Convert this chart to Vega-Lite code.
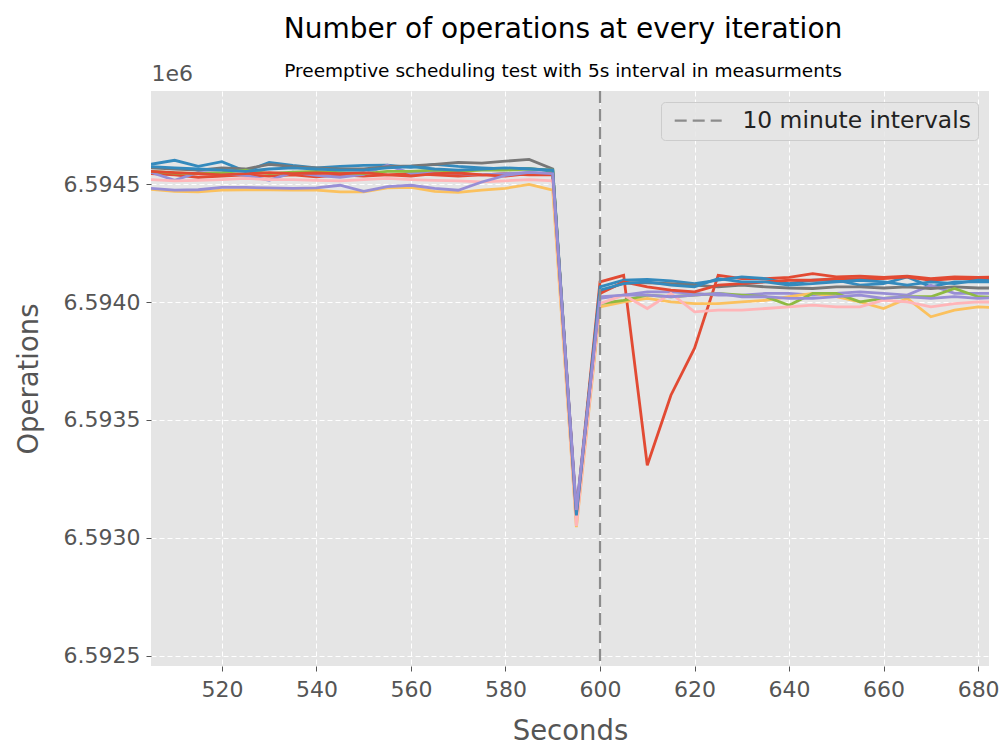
{
  "$schema": "https://vega.github.io/schema/vega-lite/v6.json",
  "width": 838,
  "height": 575,
  "autosize": {"type": "none"},
  "padding": {"left": 151, "top": 91, "right": 13, "bottom": 80},
  "background": "white",
  "title": {
    "text": "Number of operations at every iteration",
    "subtitle": "Preemptive scheduling test with 5s interval in measurments",
    "anchor": "middle",
    "dx": -7,
    "font": "DejaVu Sans",
    "fontSize": 28,
    "fontWeight": "normal",
    "color": "#000000",
    "subtitleFont": "DejaVu Sans",
    "subtitleFontSize": 18.5,
    "subtitleColor": "#000000",
    "subtitlePadding": 18,
    "offset": -18
  },
  "config": {
    "font": "DejaVu Sans",
    "view": {"fill": "#E5E5E5", "stroke": null},
    "axis": {
      "domain": false,
      "grid": true,
      "gridColor": "#FFFFFF",
      "gridDash": [5, 3],
      "gridWidth": 1,
      "gridOpacity": 1,
      "tickColor": "#555555",
      "tickSize": 5,
      "tickWidth": 1,
      "labelColor": "#555555",
      "labelFont": "DejaVu Sans",
      "labelFontSize": 22,
      "labelPadding": 5,
      "titleColor": "#555555",
      "titleFont": "DejaVu Sans",
      "titleFontSize": 27.5,
      "titleFontWeight": "normal"
    },
    "legend": {
      "fillColor": "rgba(229,229,229,0.85)",
      "strokeColor": "#CCCCCC",
      "cornerRadius": 4,
      "padding": 7,
      "labelFont": "DejaVu Sans",
      "labelFontSize": 23.4,
      "labelColor": "#222222",
      "labelLimit": 0
    }
  },
  "resolve": {"axis": {"x": "independent"}},
  "layer": [
    {
      "data": {
        "values": [
          {"t":505,"s":"s01","v":6594545},{"t":510,"s":"s01","v":6594540},{"t":515,"s":"s01","v":6594530},{"t":520,"s":"s01","v":6594535},{"t":525,"s":"s01","v":6594540},{"t":530,"s":"s01","v":6594535},{"t":535,"s":"s01","v":6594540},{"t":540,"s":"s01","v":6594532},{"t":545,"s":"s01","v":6594540},{"t":550,"s":"s01","v":6594535},{"t":555,"s":"s01","v":6594540},{"t":560,"s":"s01","v":6594545},{"t":565,"s":"s01","v":6594540},{"t":570,"s":"s01","v":6594535},{"t":575,"s":"s01","v":6594540},{"t":580,"s":"s01","v":6594545},{"t":585,"s":"s01","v":6594540},{"t":590,"s":"s01","v":6594540},{"t":595,"s":"s01","v":6593105},{"t":600,"s":"s01","v":6594086},{"t":605,"s":"s01","v":6594114},{"t":610,"s":"s01","v":6593308},{"t":615,"s":"s01","v":6593605},{"t":620,"s":"s01","v":6593805},{"t":625,"s":"s01","v":6594114},{"t":630,"s":"s01","v":6594100},{"t":635,"s":"s01","v":6594100},{"t":640,"s":"s01","v":6594105},{"t":645,"s":"s01","v":6594121},{"t":650,"s":"s01","v":6594107},{"t":655,"s":"s01","v":6594110},{"t":660,"s":"s01","v":6594105},{"t":665,"s":"s01","v":6594110},{"t":670,"s":"s01","v":6594100},{"t":675,"s":"s01","v":6594107},{"t":680,"s":"s01","v":6594105},{"t":685,"s":"s01","v":6594108},
          {"t":505,"s":"s02","v":6594585},{"t":510,"s":"s02","v":6594602},{"t":515,"s":"s02","v":6594576},{"t":520,"s":"s02","v":6594596},{"t":525,"s":"s02","v":6594555},{"t":530,"s":"s02","v":6594593},{"t":535,"s":"s02","v":6594580},{"t":540,"s":"s02","v":6594570},{"t":545,"s":"s02","v":6594576},{"t":550,"s":"s02","v":6594580},{"t":555,"s":"s02","v":6594581},{"t":560,"s":"s02","v":6594572},{"t":565,"s":"s02","v":6594585},{"t":570,"s":"s02","v":6594576},{"t":575,"s":"s02","v":6594570},{"t":580,"s":"s02","v":6594565},{"t":585,"s":"s02","v":6594568},{"t":590,"s":"s02","v":6594555},{"t":595,"s":"s02","v":6593090},{"t":600,"s":"s02","v":6594065},{"t":605,"s":"s02","v":6594093},{"t":610,"s":"s02","v":6594096},{"t":615,"s":"s02","v":6594090},{"t":620,"s":"s02","v":6594079},{"t":625,"s":"s02","v":6594093},{"t":630,"s":"s02","v":6594107},{"t":635,"s":"s02","v":6594100},{"t":640,"s":"s02","v":6594079},{"t":645,"s":"s02","v":6594093},{"t":650,"s":"s02","v":6594093},{"t":655,"s":"s02","v":6594072},{"t":660,"s":"s02","v":6594079},{"t":665,"s":"s02","v":6594107},{"t":670,"s":"s02","v":6594065},{"t":675,"s":"s02","v":6594086},{"t":680,"s":"s02","v":6594086},{"t":685,"s":"s02","v":6594086},
          {"t":505,"s":"s03","v":6594551},{"t":510,"s":"s03","v":6594517},{"t":515,"s":"s03","v":6594551},{"t":520,"s":"s03","v":6594547},{"t":525,"s":"s03","v":6594538},{"t":530,"s":"s03","v":6594517},{"t":535,"s":"s03","v":6594551},{"t":540,"s":"s03","v":6594538},{"t":545,"s":"s03","v":6594530},{"t":550,"s":"s03","v":6594542},{"t":555,"s":"s03","v":6594581},{"t":560,"s":"s03","v":6594547},{"t":565,"s":"s03","v":6594551},{"t":570,"s":"s03","v":6594545},{"t":575,"s":"s03","v":6594540},{"t":580,"s":"s03","v":6594545},{"t":585,"s":"s03","v":6594551},{"t":590,"s":"s03","v":6594545},{"t":595,"s":"s03","v":6593120},{"t":600,"s":"s03","v":6594016},{"t":605,"s":"s03","v":6594030},{"t":610,"s":"s03","v":6594044},{"t":615,"s":"s03","v":6594044},{"t":620,"s":"s03","v":6594037},{"t":625,"s":"s03","v":6594030},{"t":630,"s":"s03","v":6594030},{"t":635,"s":"s03","v":6594037},{"t":640,"s":"s03","v":6594037},{"t":645,"s":"s03","v":6594030},{"t":650,"s":"s03","v":6594037},{"t":655,"s":"s03","v":6594044},{"t":660,"s":"s03","v":6594037},{"t":665,"s":"s03","v":6594030},{"t":670,"s":"s03","v":6594072},{"t":675,"s":"s03","v":6594037},{"t":680,"s":"s03","v":6594037},{"t":685,"s":"s03","v":6594037},
          {"t":505,"s":"s04","v":6594570},{"t":510,"s":"s04","v":6594565},{"t":515,"s":"s04","v":6594560},{"t":520,"s":"s04","v":6594570},{"t":525,"s":"s04","v":6594565},{"t":530,"s":"s04","v":6594585},{"t":535,"s":"s04","v":6594575},{"t":540,"s":"s04","v":6594570},{"t":545,"s":"s04","v":6594565},{"t":550,"s":"s04","v":6594565},{"t":555,"s":"s04","v":6594575},{"t":560,"s":"s04","v":6594578},{"t":565,"s":"s04","v":6594585},{"t":570,"s":"s04","v":6594593},{"t":575,"s":"s04","v":6594590},{"t":580,"s":"s04","v":6594598},{"t":585,"s":"s04","v":6594606},{"t":590,"s":"s04","v":6594565},{"t":595,"s":"s04","v":6593100},{"t":600,"s":"s04","v":6594044},{"t":605,"s":"s04","v":6594082},{"t":610,"s":"s04","v":6594082},{"t":615,"s":"s04","v":6594079},{"t":620,"s":"s04","v":6594072},{"t":625,"s":"s04","v":6594065},{"t":630,"s":"s04","v":6594072},{"t":635,"s":"s04","v":6594065},{"t":640,"s":"s04","v":6594060},{"t":645,"s":"s04","v":6594058},{"t":650,"s":"s04","v":6594065},{"t":655,"s":"s04","v":6594065},{"t":660,"s":"s04","v":6594060},{"t":665,"s":"s04","v":6594065},{"t":670,"s":"s04","v":6594058},{"t":675,"s":"s04","v":6594065},{"t":680,"s":"s04","v":6594060},{"t":685,"s":"s04","v":6594060},
          {"t":505,"s":"s05","v":6594479},{"t":510,"s":"s05","v":6594470},{"t":515,"s":"s05","v":6594468},{"t":520,"s":"s05","v":6594475},{"t":525,"s":"s05","v":6594477},{"t":530,"s":"s05","v":6594477},{"t":535,"s":"s05","v":6594475},{"t":540,"s":"s05","v":6594475},{"t":545,"s":"s05","v":6594468},{"t":550,"s":"s05","v":6594468},{"t":555,"s":"s05","v":6594485},{"t":560,"s":"s05","v":6594487},{"t":565,"s":"s05","v":6594470},{"t":570,"s":"s05","v":6594466},{"t":575,"s":"s05","v":6594475},{"t":580,"s":"s05","v":6594483},{"t":585,"s":"s05","v":6594500},{"t":590,"s":"s05","v":6594475},{"t":595,"s":"s05","v":6593045},{"t":600,"s":"s05","v":6593980},{"t":605,"s":"s05","v":6594001},{"t":610,"s":"s05","v":6594016},{"t":615,"s":"s05","v":6594001},{"t":620,"s":"s05","v":6593994},{"t":625,"s":"s05","v":6593994},{"t":630,"s":"s05","v":6594001},{"t":635,"s":"s05","v":6594008},{"t":640,"s":"s05","v":6594023},{"t":645,"s":"s05","v":6594037},{"t":650,"s":"s05","v":6594023},{"t":655,"s":"s05","v":6594001},{"t":660,"s":"s05","v":6593973},{"t":665,"s":"s05","v":6594016},{"t":670,"s":"s05","v":6593938},{"t":675,"s":"s05","v":6593966},{"t":680,"s":"s05","v":6593980},{"t":685,"s":"s05","v":6593975},
          {"t":505,"s":"s06","v":6594555},{"t":510,"s":"s06","v":6594548},{"t":515,"s":"s06","v":6594545},{"t":520,"s":"s06","v":6594550},{"t":525,"s":"s06","v":6594560},{"t":530,"s":"s06","v":6594545},{"t":535,"s":"s06","v":6594552},{"t":540,"s":"s06","v":6594555},{"t":545,"s":"s06","v":6594550},{"t":550,"s":"s06","v":6594545},{"t":555,"s":"s06","v":6594555},{"t":560,"s":"s06","v":6594555},{"t":565,"s":"s06","v":6594560},{"t":570,"s":"s06","v":6594555},{"t":575,"s":"s06","v":6594560},{"t":580,"s":"s06","v":6594560},{"t":585,"s":"s06","v":6594565},{"t":590,"s":"s06","v":6594560},{"t":595,"s":"s06","v":6593080},{"t":600,"s":"s06","v":6593994},{"t":605,"s":"s06","v":6594008},{"t":610,"s":"s06","v":6594030},{"t":615,"s":"s06","v":6594023},{"t":620,"s":"s06","v":6594030},{"t":625,"s":"s06","v":6594037},{"t":630,"s":"s06","v":6594030},{"t":635,"s":"s06","v":6594023},{"t":640,"s":"s06","v":6593987},{"t":645,"s":"s06","v":6594037},{"t":650,"s":"s06","v":6594037},{"t":655,"s":"s06","v":6594001},{"t":660,"s":"s06","v":6594016},{"t":665,"s":"s06","v":6594023},{"t":670,"s":"s06","v":6594023},{"t":675,"s":"s06","v":6594058},{"t":680,"s":"s06","v":6594023},{"t":685,"s":"s06","v":6594020},
          {"t":505,"s":"s07","v":6594520},{"t":510,"s":"s07","v":6594515},{"t":515,"s":"s07","v":6594517},{"t":520,"s":"s07","v":6594520},{"t":525,"s":"s07","v":6594525},{"t":530,"s":"s07","v":6594520},{"t":535,"s":"s07","v":6594520},{"t":540,"s":"s07","v":6594517},{"t":545,"s":"s07","v":6594515},{"t":550,"s":"s07","v":6594520},{"t":555,"s":"s07","v":6594525},{"t":560,"s":"s07","v":6594520},{"t":565,"s":"s07","v":6594517},{"t":570,"s":"s07","v":6594515},{"t":575,"s":"s07","v":6594510},{"t":580,"s":"s07","v":6594515},{"t":585,"s":"s07","v":6594520},{"t":590,"s":"s07","v":6594515},{"t":595,"s":"s07","v":6593050},{"t":600,"s":"s07","v":6593994},{"t":605,"s":"s07","v":6594030},{"t":610,"s":"s07","v":6593973},{"t":615,"s":"s07","v":6594037},{"t":620,"s":"s07","v":6593959},{"t":625,"s":"s07","v":6593966},{"t":630,"s":"s07","v":6593966},{"t":635,"s":"s07","v":6593973},{"t":640,"s":"s07","v":6593980},{"t":645,"s":"s07","v":6593987},{"t":650,"s":"s07","v":6593980},{"t":655,"s":"s07","v":6593980},{"t":660,"s":"s07","v":6594008},{"t":665,"s":"s07","v":6594001},{"t":670,"s":"s07","v":6593980},{"t":675,"s":"s07","v":6593994},{"t":680,"s":"s07","v":6594001},{"t":685,"s":"s07","v":6594000},
          {"t":505,"s":"s08","v":6594555},{"t":510,"s":"s08","v":6594550},{"t":515,"s":"s08","v":6594545},{"t":520,"s":"s08","v":6594540},{"t":525,"s":"s08","v":6594545},{"t":530,"s":"s08","v":6594550},{"t":535,"s":"s08","v":6594545},{"t":540,"s":"s08","v":6594548},{"t":545,"s":"s08","v":6594545},{"t":550,"s":"s08","v":6594550},{"t":555,"s":"s08","v":6594540},{"t":560,"s":"s08","v":6594535},{"t":565,"s":"s08","v":6594545},{"t":570,"s":"s08","v":6594548},{"t":575,"s":"s08","v":6594540},{"t":580,"s":"s08","v":6594535},{"t":585,"s":"s08","v":6594545},{"t":590,"s":"s08","v":6594545},{"t":595,"s":"s08","v":6593100},{"t":600,"s":"s08","v":6594037},{"t":605,"s":"s08","v":6594086},{"t":610,"s":"s08","v":6594065},{"t":615,"s":"s08","v":6594051},{"t":620,"s":"s08","v":6594044},{"t":625,"s":"s08","v":6594072},{"t":630,"s":"s08","v":6594079},{"t":635,"s":"s08","v":6594086},{"t":640,"s":"s08","v":6594093},{"t":645,"s":"s08","v":6594093},{"t":650,"s":"s08","v":6594100},{"t":655,"s":"s08","v":6594100},{"t":660,"s":"s08","v":6594100},{"t":665,"s":"s08","v":6594107},{"t":670,"s":"s08","v":6594093},{"t":675,"s":"s08","v":6594100},{"t":680,"s":"s08","v":6594100},{"t":685,"s":"s08","v":6594100},
          {"t":505,"s":"s09","v":6594575},{"t":510,"s":"s09","v":6594570},{"t":515,"s":"s09","v":6594565},{"t":520,"s":"s09","v":6594560},{"t":525,"s":"s09","v":6594555},{"t":530,"s":"s09","v":6594565},{"t":535,"s":"s09","v":6594570},{"t":540,"s":"s09","v":6594565},{"t":545,"s":"s09","v":6594560},{"t":550,"s":"s09","v":6594560},{"t":555,"s":"s09","v":6594570},{"t":560,"s":"s09","v":6594575},{"t":565,"s":"s09","v":6594565},{"t":570,"s":"s09","v":6594560},{"t":575,"s":"s09","v":6594565},{"t":580,"s":"s09","v":6594570},{"t":585,"s":"s09","v":6594565},{"t":590,"s":"s09","v":6594560},{"t":595,"s":"s09","v":6593095},{"t":600,"s":"s09","v":6594051},{"t":605,"s":"s09","v":6594079},{"t":610,"s":"s09","v":6594086},{"t":615,"s":"s09","v":6594072},{"t":620,"s":"s09","v":6594065},{"t":625,"s":"s09","v":6594100},{"t":630,"s":"s09","v":6594086},{"t":635,"s":"s09","v":6594086},{"t":640,"s":"s09","v":6594072},{"t":645,"s":"s09","v":6594079},{"t":650,"s":"s09","v":6594086},{"t":655,"s":"s09","v":6594093},{"t":660,"s":"s09","v":6594086},{"t":665,"s":"s09","v":6594072},{"t":670,"s":"s09","v":6594086},{"t":675,"s":"s09","v":6594079},{"t":680,"s":"s09","v":6594093},{"t":685,"s":"s09","v":6594090},
          {"t":505,"s":"s10","v":6594483},{"t":510,"s":"s10","v":6594475},{"t":515,"s":"s10","v":6594477},{"t":520,"s":"s10","v":6594487},{"t":525,"s":"s10","v":6594487},{"t":530,"s":"s10","v":6594485},{"t":535,"s":"s10","v":6594483},{"t":540,"s":"s10","v":6594485},{"t":545,"s":"s10","v":6594496},{"t":550,"s":"s10","v":6594470},{"t":555,"s":"s10","v":6594490},{"t":560,"s":"s10","v":6594496},{"t":565,"s":"s10","v":6594483},{"t":570,"s":"s10","v":6594475},{"t":575,"s":"s10","v":6594510},{"t":580,"s":"s10","v":6594538},{"t":585,"s":"s10","v":6594551},{"t":590,"s":"s10","v":6594545},{"t":595,"s":"s10","v":6593118},{"t":600,"s":"s10","v":6594023},{"t":605,"s":"s10","v":6594030},{"t":610,"s":"s10","v":6594030},{"t":615,"s":"s10","v":6594023},{"t":620,"s":"s10","v":6594030},{"t":625,"s":"s10","v":6594037},{"t":630,"s":"s10","v":6594023},{"t":635,"s":"s10","v":6594023},{"t":640,"s":"s10","v":6594016},{"t":645,"s":"s10","v":6594016},{"t":650,"s":"s10","v":6594023},{"t":655,"s":"s10","v":6594030},{"t":660,"s":"s10","v":6594016},{"t":665,"s":"s10","v":6594023},{"t":670,"s":"s10","v":6594016},{"t":675,"s":"s10","v":6594023},{"t":680,"s":"s10","v":6594016},{"t":685,"s":"s10","v":6594020}
        ]
      },
      "mark": {"type": "line", "strokeWidth": 2.8, "clip": true},
      "encoding": {
        "x": {
          "field": "t",
          "type": "quantitative",
          "scale": {"domain": [505, 682.3], "nice": false, "zero": false},
          "axis": {"values": [520, 540, 560, 580, 600, 620, 640, 660, 680], "title": "Seconds", "labelPadding": 8, "titlePadding": 17}
        },
        "y": {
          "field": "v",
          "type": "quantitative",
          "scale": {"domain": [6592456, 6594896], "nice": false, "zero": false},
          "axis": {
            "values": [6592500, 6593000, 6593500, 6594000, 6594500],
            "labelExpr": "format(datum.value / 1000000, '.4f')",
            "labelPadding": 6,
            "title": "Operations",
            "titlePadding": 20
          }
        },
        "color": {
          "field": "s",
          "type": "nominal",
          "scale": {
            "domain": ["s01", "s02", "s03", "s04", "s05", "s06", "s07", "s08", "s09", "s10"],
            "range": ["#E24A33", "#348ABD", "#988ED5", "#777777", "#FBC15E", "#8EBA42", "#FFB5B8", "#E24A33", "#348ABD", "#988ED5"]
          },
          "legend": null
        }
      }
    },
    {
      "data": {"values": [{"t": 600, "label": "10 minute intervals"}]},
      "mark": {"type": "rule", "color": "#8C8C8C", "strokeWidth": 2.2, "strokeDash": [12, 6]},
      "encoding": {
        "x": {
          "field": "t",
          "type": "quantitative",
          "axis": {
            "orient": "top",
            "title": "1e6",
            "labels": false,
            "ticks": false,
            "domain": false,
            "grid": false,
            "titleX": 0,
            "titleY": -11,
            "titleAlign": "left",
            "titleAnchor": "start",
            "titleBaseline": "alphabetic",
            "titleAngle": 0,
            "titleFontSize": 22,
            "titleColor": "#555555"
          }
        },
        "strokeDash": {
          "field": "label",
          "type": "nominal",
          "scale": {"domain": ["10 minute intervals"], "range": [[12, 6]]},
          "legend": {
            "title": null,
            "orient": "top-right",
            "offset": 11,
            "symbolType": "M-1,0H8.4",
            "symbolSize": 100,
            "symbolStrokeColor": "#8C8C8C",
            "symbolStrokeWidth": 2.2,
            "labelOffset": 51
          }
        }
      }
    }
  ]
}
